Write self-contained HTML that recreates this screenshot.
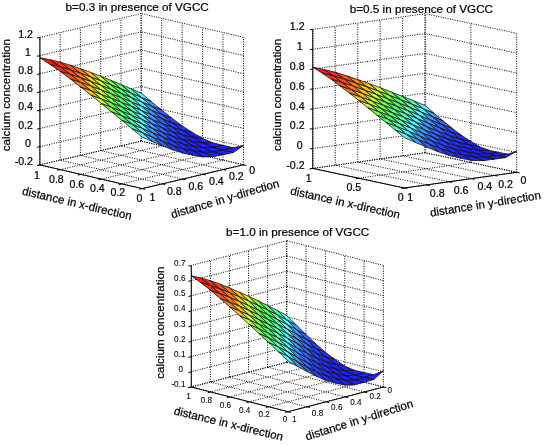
<!DOCTYPE html>
<html><head><meta charset="utf-8"><style>
html,body{margin:0;padding:0;background:#fff;}
svg{display:block;filter:blur(0.3px);}
.g{stroke:#000;stroke-width:1;stroke-dasharray:1 1.4;fill:none;}
.ax{stroke:#000;stroke-width:1;fill:none;}
.surf polygon{stroke:#111;stroke-width:0.8;stroke-linejoin:round;}
text{font-family:"Liberation Sans", sans-serif;fill:#000;stroke:#000;stroke-width:0.22px;}
</style></head><body>
<svg width="545" height="445" viewBox="0 0 545 445">
<rect width="545" height="445" fill="#fff"/>
<line x1="141.20" y1="141.10" x2="141.20" y2="13.56" class="g"/>
<line x1="120.94" y1="145.86" x2="120.94" y2="18.32" class="g"/>
<line x1="100.68" y1="150.62" x2="100.68" y2="23.08" class="g"/>
<line x1="80.42" y1="155.38" x2="80.42" y2="27.84" class="g"/>
<line x1="60.16" y1="160.14" x2="60.16" y2="32.60" class="g"/>
<line x1="39.90" y1="164.90" x2="39.90" y2="37.36" class="g"/>
<line x1="141.20" y1="141.10" x2="39.90" y2="164.90" class="g"/>
<line x1="141.20" y1="122.88" x2="39.90" y2="146.68" class="g"/>
<line x1="141.20" y1="104.66" x2="39.90" y2="128.46" class="g"/>
<line x1="141.20" y1="86.44" x2="39.90" y2="110.24" class="g"/>
<line x1="141.20" y1="68.22" x2="39.90" y2="92.02" class="g"/>
<line x1="141.20" y1="50.00" x2="39.90" y2="73.80" class="g"/>
<line x1="141.20" y1="31.78" x2="39.90" y2="55.58" class="g"/>
<line x1="141.20" y1="13.56" x2="39.90" y2="37.36" class="g"/>
<line x1="243.50" y1="164.80" x2="243.50" y2="37.26" class="g"/>
<line x1="223.04" y1="160.06" x2="223.04" y2="32.52" class="g"/>
<line x1="202.58" y1="155.32" x2="202.58" y2="27.78" class="g"/>
<line x1="182.12" y1="150.58" x2="182.12" y2="23.04" class="g"/>
<line x1="161.66" y1="145.84" x2="161.66" y2="18.30" class="g"/>
<line x1="141.20" y1="141.10" x2="141.20" y2="13.56" class="g"/>
<line x1="243.50" y1="164.80" x2="141.20" y2="141.10" class="g"/>
<line x1="243.50" y1="146.58" x2="141.20" y2="122.88" class="g"/>
<line x1="243.50" y1="128.36" x2="141.20" y2="104.66" class="g"/>
<line x1="243.50" y1="110.14" x2="141.20" y2="86.44" class="g"/>
<line x1="243.50" y1="91.92" x2="141.20" y2="68.22" class="g"/>
<line x1="243.50" y1="73.70" x2="141.20" y2="50.00" class="g"/>
<line x1="243.50" y1="55.48" x2="141.20" y2="31.78" class="g"/>
<line x1="243.50" y1="37.26" x2="141.20" y2="13.56" class="g"/>
<line x1="243.50" y1="164.80" x2="142.20" y2="188.60" class="g"/>
<line x1="223.04" y1="160.06" x2="121.74" y2="183.86" class="g"/>
<line x1="202.58" y1="155.32" x2="101.28" y2="179.12" class="g"/>
<line x1="182.12" y1="150.58" x2="80.82" y2="174.38" class="g"/>
<line x1="161.66" y1="145.84" x2="60.36" y2="169.64" class="g"/>
<line x1="141.20" y1="141.10" x2="39.90" y2="164.90" class="g"/>
<line x1="243.50" y1="164.80" x2="141.20" y2="141.10" class="g"/>
<line x1="223.24" y1="169.56" x2="120.94" y2="145.86" class="g"/>
<line x1="202.98" y1="174.32" x2="100.68" y2="150.62" class="g"/>
<line x1="182.72" y1="179.08" x2="80.42" y2="155.38" class="g"/>
<line x1="162.46" y1="183.84" x2="60.16" y2="160.14" class="g"/>
<line x1="142.20" y1="188.60" x2="39.90" y2="164.90" class="g"/>
<g class="surf"><polygon points="151.43,101.64 141.20,93.09 131.07,88.75 141.30,97.49" fill="#50f9ff"/><polygon points="161.66,109.97 151.43,101.64 141.30,97.49 151.53,106.07" fill="#3f99ff"/><polygon points="171.89,118.21 161.66,109.97 151.53,106.07 161.76,114.43" fill="#3164ff"/><polygon points="141.30,97.49 131.07,88.75 120.94,84.47 131.17,93.18" fill="#52ffae"/><polygon points="182.12,125.86 171.89,118.21 161.76,114.43 171.99,122.72" fill="#2740ff"/><polygon points="151.53,106.07 141.30,97.49 131.17,93.18 141.40,101.88" fill="#50f9ff"/><polygon points="192.35,132.40 182.12,125.86 171.99,122.72 182.22,130.40" fill="#222dff"/><polygon points="161.76,114.43 151.53,106.07 141.40,101.88 151.63,110.50" fill="#3f99ff"/><polygon points="131.17,93.18 120.94,84.47 110.81,80.32 121.04,88.94" fill="#4fff70"/><polygon points="171.99,122.72 161.76,114.43 151.63,110.50 161.86,118.90" fill="#3164ff"/><polygon points="202.58,138.53 192.35,132.40 182.22,130.40 192.45,136.98" fill="#1f1fff"/><polygon points="141.40,101.88 131.17,93.18 121.04,88.94 131.27,97.61" fill="#52ffae"/><polygon points="182.22,130.40 171.99,122.72 161.86,118.90 172.09,127.22" fill="#2740ff"/><polygon points="151.63,110.50 141.40,101.88 131.27,97.61 141.50,106.28" fill="#50f9ff"/><polygon points="121.04,88.94 110.81,80.32 100.68,76.26 110.91,84.82" fill="#76ff3f"/><polygon points="212.81,142.74 202.58,138.53 192.45,136.98 202.68,143.14" fill="#1f1fff"/><polygon points="192.45,136.98 182.22,130.40 172.09,127.22 182.32,134.94" fill="#222dff"/><polygon points="161.86,118.90 151.63,110.50 141.50,106.28 151.73,114.93" fill="#3f99ff"/><polygon points="131.27,97.61 121.04,88.94 110.91,84.82 121.14,93.40" fill="#4fff70"/><polygon points="223.04,145.35 212.81,142.74 202.68,143.14 212.91,147.39" fill="#1f1fff"/><polygon points="172.09,127.22 161.86,118.90 151.73,114.93 161.96,123.37" fill="#3164ff"/><polygon points="202.68,143.14 192.45,136.98 182.32,134.94 192.55,141.55" fill="#1f1fff"/><polygon points="141.50,106.28 131.27,97.61 121.14,93.40 131.37,102.04" fill="#52ffae"/><polygon points="110.91,84.82 100.68,76.26 90.55,72.35 100.78,80.80" fill="#caff2a"/><polygon points="182.32,134.94 172.09,127.22 161.96,123.37 172.19,131.72" fill="#2740ff"/><polygon points="233.27,147.78 223.04,145.35 212.91,147.39 223.14,150.02" fill="#1f1fff"/><polygon points="151.73,114.93 141.50,106.28 131.37,102.04 141.60,110.67" fill="#50f9ff"/><polygon points="121.14,93.40 110.91,84.82 100.78,80.80 111.01,89.32" fill="#76ff3f"/><polygon points="212.91,147.39 202.68,143.14 192.55,141.55 202.78,147.75" fill="#1f1fff"/><polygon points="192.55,141.55 182.32,134.94 172.19,131.72 182.42,139.47" fill="#222dff"/><polygon points="161.96,123.37 151.73,114.93 141.60,110.67 151.83,119.36" fill="#3f99ff"/><polygon points="131.37,102.04 121.14,93.40 111.01,89.32 121.24,97.87" fill="#4fff70"/><polygon points="100.78,80.80 90.55,72.35 80.42,68.70 90.65,76.92" fill="#ffc20d"/><polygon points="223.14,150.02 212.91,147.39 202.78,147.75 213.01,152.03" fill="#1f1fff"/><polygon points="243.50,145.51 233.27,147.78 223.14,150.02 233.37,152.50" fill="#1f1fff"/><polygon points="172.19,131.72 161.96,123.37 151.83,119.36 162.06,127.83" fill="#3164ff"/><polygon points="202.78,147.75 192.55,141.55 182.42,139.47 192.65,146.12" fill="#1f1fff"/><polygon points="141.60,110.67 131.37,102.04 121.24,97.87 131.47,106.47" fill="#52ffae"/><polygon points="111.01,89.32 100.78,80.80 90.65,76.92 100.88,85.33" fill="#caff2a"/><polygon points="182.42,139.47 172.19,131.72 162.06,127.83 172.29,136.22" fill="#2740ff"/><polygon points="233.37,152.50 223.14,150.02 213.01,152.03 223.24,154.70" fill="#1f1fff"/><polygon points="151.83,119.36 141.60,110.67 131.47,106.47 141.70,115.07" fill="#50f9ff"/><polygon points="121.24,97.87 111.01,89.32 100.88,85.33 111.11,93.82" fill="#76ff3f"/><polygon points="213.01,152.03 202.78,147.75 192.65,146.12 202.88,152.36" fill="#1f1fff"/><polygon points="90.65,76.92 80.42,68.70 70.29,65.20 80.52,73.30" fill="#ff7f10"/><polygon points="192.65,146.12 182.42,139.47 172.29,136.22 182.52,144.01" fill="#222dff"/><polygon points="162.06,127.83 151.83,119.36 141.70,115.07 151.93,123.79" fill="#3f99ff"/><polygon points="131.47,106.47 121.24,97.87 111.11,93.82 121.34,102.33" fill="#4fff70"/><polygon points="100.88,85.33 90.65,76.92 80.52,73.30 90.75,81.50" fill="#ffc20d"/><polygon points="223.24,154.70 213.01,152.03 202.88,152.36 213.11,156.67" fill="#1f1fff"/><polygon points="172.29,136.22 162.06,127.83 151.93,123.79 162.16,132.30" fill="#3164ff"/><polygon points="202.88,152.36 192.65,146.12 182.52,144.01 192.75,150.69" fill="#1f1fff"/><polygon points="141.70,115.07 131.47,106.47 121.34,102.33 131.57,110.90" fill="#52ffae"/><polygon points="111.11,93.82 100.88,85.33 90.75,81.50 100.98,89.87" fill="#caff2a"/><polygon points="80.52,73.30 70.29,65.20 60.16,62.14 70.39,69.85" fill="#ff4d12"/><polygon points="182.52,144.01 172.29,136.22 162.16,132.30 172.39,140.72" fill="#2740ff"/><polygon points="151.93,123.79 141.70,115.07 131.57,110.90 141.80,119.46" fill="#50f9ff"/><polygon points="121.34,102.33 111.11,93.82 100.98,89.87 111.21,98.32" fill="#76ff3f"/><polygon points="213.11,156.67 202.88,152.36 192.75,150.69 202.98,156.96" fill="#1f1fff"/><polygon points="90.75,81.50 80.52,73.30 70.39,69.85 80.62,77.91" fill="#ff7f10"/><polygon points="192.75,150.69 182.52,144.01 172.39,140.72 182.62,148.55" fill="#222dff"/><polygon points="162.16,132.30 151.93,123.79 141.80,119.46 152.03,128.22" fill="#3f99ff"/><polygon points="131.57,110.90 121.34,102.33 111.21,98.32 121.44,106.80" fill="#4fff70"/><polygon points="70.39,69.85 60.16,62.14 50.03,59.69 60.26,66.81" fill="#ff2714"/><polygon points="100.98,89.87 90.75,81.50 80.62,77.91 90.85,86.07" fill="#ffc20d"/><polygon points="172.39,140.72 162.16,132.30 152.03,128.22 162.26,136.76" fill="#3164ff"/><polygon points="202.98,156.96 192.75,150.69 182.62,148.55 192.85,155.26" fill="#1f1fff"/><polygon points="141.80,119.46 131.57,110.90 121.44,106.80 131.67,115.33" fill="#52ffae"/><polygon points="111.21,98.32 100.98,89.87 90.85,86.07 101.08,94.41" fill="#caff2a"/><polygon points="80.62,77.91 70.39,69.85 60.26,66.81 70.49,74.49" fill="#ff4d12"/><polygon points="182.62,148.55 172.39,140.72 162.26,136.76 172.49,145.22" fill="#2740ff"/><polygon points="152.03,128.22 141.80,119.46 131.67,115.33 141.90,123.85" fill="#50f9ff"/><polygon points="60.26,66.81 50.03,59.69 39.90,57.77 50.13,64.40" fill="#ff1414"/><polygon points="121.44,106.80 111.21,98.32 101.08,94.41 111.31,102.82" fill="#76ff3f"/><polygon points="90.85,86.07 80.62,77.91 70.49,74.49 80.72,82.52" fill="#ff7f10"/><polygon points="192.85,155.26 182.62,148.55 172.49,145.22 182.72,153.08" fill="#222dff"/><polygon points="162.26,136.76 152.03,128.22 141.90,123.85 152.13,132.65" fill="#3f99ff"/><polygon points="131.67,115.33 121.44,106.80 111.31,102.82 121.54,111.27" fill="#4fff70"/><polygon points="70.49,74.49 60.26,66.81 50.13,64.40 60.36,71.49" fill="#ff2714"/><polygon points="101.08,94.41 90.85,86.07 80.72,82.52 90.95,90.64" fill="#ffc20d"/><polygon points="172.49,145.22 162.26,136.76 152.13,132.65 162.36,141.23" fill="#3164ff"/><polygon points="141.90,123.85 131.67,115.33 121.54,111.27 131.77,119.76" fill="#52ffae"/><polygon points="111.31,102.82 101.08,94.41 90.95,90.64 101.18,98.94" fill="#caff2a"/><polygon points="80.72,82.52 70.49,74.49 60.36,71.49 70.59,79.13" fill="#ff4d12"/><polygon points="182.72,153.08 172.49,145.22 162.36,141.23 172.59,149.72" fill="#2740ff"/><polygon points="152.13,132.65 141.90,123.85 131.77,119.76 142.00,128.25" fill="#50f9ff"/><polygon points="121.54,111.27 111.31,102.82 101.18,98.94 111.41,107.32" fill="#76ff3f"/><polygon points="90.95,90.64 80.72,82.52 70.59,79.13 80.82,87.13" fill="#ff7f10"/><polygon points="162.36,141.23 152.13,132.65 142.00,128.25 152.23,137.08" fill="#3f99ff"/><polygon points="131.77,119.76 121.54,111.27 111.41,107.32 121.64,115.73" fill="#4fff70"/><polygon points="101.18,98.94 90.95,90.64 80.82,87.13 91.05,95.21" fill="#ffc20d"/><polygon points="172.59,149.72 162.36,141.23 152.23,137.08 162.46,145.69" fill="#3164ff"/><polygon points="142.00,128.25 131.77,119.76 121.64,115.73 131.87,124.19" fill="#52ffae"/><polygon points="111.41,107.32 101.18,98.94 91.05,95.21 101.28,103.48" fill="#caff2a"/><polygon points="152.23,137.08 142.00,128.25 131.87,124.19 142.10,132.64" fill="#50f9ff"/><polygon points="121.64,115.73 111.41,107.32 101.28,103.48 111.51,111.83" fill="#76ff3f"/><polygon points="162.46,145.69 152.23,137.08 142.10,132.64 152.33,141.51" fill="#3f99ff"/><polygon points="131.87,124.19 121.64,115.73 111.51,111.83 121.74,120.20" fill="#4fff70"/><polygon points="142.10,132.64 131.87,124.19 121.74,120.20 131.97,128.62" fill="#52ffae"/><polygon points="152.33,141.51 142.10,132.64 131.97,128.62 142.20,137.04" fill="#50f9ff"/></g>
<line x1="39.90" y1="164.90" x2="39.90" y2="37.36" class="ax"/>
<line x1="39.90" y1="164.90" x2="142.20" y2="188.60" class="ax"/>
<line x1="142.20" y1="188.60" x2="243.50" y2="164.80" class="ax"/>
<line x1="39.90" y1="164.90" x2="36.98" y2="165.59" class="ax"/>
<line x1="39.90" y1="146.68" x2="36.98" y2="147.37" class="ax"/>
<line x1="39.90" y1="128.46" x2="36.98" y2="129.15" class="ax"/>
<line x1="39.90" y1="110.24" x2="36.98" y2="110.93" class="ax"/>
<line x1="39.90" y1="92.02" x2="36.98" y2="92.71" class="ax"/>
<line x1="39.90" y1="73.80" x2="36.98" y2="74.49" class="ax"/>
<line x1="39.90" y1="55.58" x2="36.98" y2="56.27" class="ax"/>
<line x1="39.90" y1="37.36" x2="36.98" y2="38.05" class="ax"/>
<line x1="142.20" y1="188.60" x2="139.28" y2="189.29" class="ax"/>
<line x1="121.74" y1="183.86" x2="118.82" y2="184.55" class="ax"/>
<line x1="101.28" y1="179.12" x2="98.36" y2="179.81" class="ax"/>
<line x1="80.82" y1="174.38" x2="77.90" y2="175.07" class="ax"/>
<line x1="60.36" y1="169.64" x2="57.44" y2="170.33" class="ax"/>
<line x1="39.90" y1="164.90" x2="36.98" y2="165.59" class="ax"/>
<line x1="243.50" y1="164.80" x2="246.42" y2="165.48" class="ax"/>
<line x1="223.24" y1="169.56" x2="226.16" y2="170.24" class="ax"/>
<line x1="202.98" y1="174.32" x2="205.90" y2="175.00" class="ax"/>
<line x1="182.72" y1="179.08" x2="185.64" y2="179.76" class="ax"/>
<line x1="162.46" y1="183.84" x2="165.38" y2="184.52" class="ax"/>
<line x1="142.20" y1="188.60" x2="145.12" y2="189.28" class="ax"/>
<text x="32.90" y="165.10" text-anchor="end" font-size="10.60">-0.2</text>
<text x="31.00" y="146.88" text-anchor="end" font-size="10.60">0</text>
<text x="32.90" y="128.66" text-anchor="end" font-size="10.60">0.2</text>
<text x="32.90" y="110.44" text-anchor="end" font-size="10.60">0.4</text>
<text x="32.90" y="92.22" text-anchor="end" font-size="10.60">0.6</text>
<text x="32.90" y="74.00" text-anchor="end" font-size="10.60">0.8</text>
<text x="31.00" y="55.78" text-anchor="end" font-size="10.60">1</text>
<text x="32.90" y="37.56" text-anchor="end" font-size="10.60">1.2</text>
<text x="139.50" y="201.59" text-anchor="middle" font-size="10.60">0</text>
<text x="117.90" y="196.39" text-anchor="middle" font-size="10.60">0.2</text>
<text x="97.40" y="191.99" text-anchor="middle" font-size="10.60">0.4</text>
<text x="76.80" y="188.09" text-anchor="middle" font-size="10.60">0.6</text>
<text x="56.40" y="183.39" text-anchor="middle" font-size="10.60">0.8</text>
<text x="36.90" y="179.19" text-anchor="middle" font-size="10.60">1</text>
<text x="252.20" y="173.99" text-anchor="middle" font-size="10.60">0</text>
<text x="236.40" y="180.49" text-anchor="middle" font-size="10.60">0.2</text>
<text x="216.40" y="185.19" text-anchor="middle" font-size="10.60">0.4</text>
<text x="195.80" y="189.89" text-anchor="middle" font-size="10.60">0.6</text>
<text x="174.30" y="195.49" text-anchor="middle" font-size="10.60">0.8</text>
<text x="152.50" y="201.29" text-anchor="middle" font-size="10.60">1</text>
<text x="137.20" y="10.90" text-anchor="middle" font-size="11.70">b=0.3 in presence of VGCC</text>
<text transform="translate(10.00,95.15) rotate(-90)" text-anchor="middle" font-size="11.60">calcium concentration</text>
<text transform="translate(76.10,207.20) rotate(13.10)" text-anchor="middle" font-size="11.60">distance in x-direction</text>
<text transform="translate(226.10,202.50) rotate(-16.50)" text-anchor="middle" font-size="11.60">distance in y-direction</text>
<line x1="425.10" y1="152.70" x2="425.10" y2="13.68" class="g"/>
<line x1="402.64" y1="155.84" x2="402.64" y2="16.82" class="g"/>
<line x1="380.18" y1="158.98" x2="380.18" y2="19.96" class="g"/>
<line x1="357.72" y1="162.12" x2="357.72" y2="23.10" class="g"/>
<line x1="335.26" y1="165.26" x2="335.26" y2="26.24" class="g"/>
<line x1="312.80" y1="168.40" x2="312.80" y2="29.38" class="g"/>
<line x1="425.10" y1="152.70" x2="312.80" y2="168.40" class="g"/>
<line x1="425.10" y1="132.84" x2="312.80" y2="148.54" class="g"/>
<line x1="425.10" y1="112.98" x2="312.80" y2="128.68" class="g"/>
<line x1="425.10" y1="93.12" x2="312.80" y2="108.82" class="g"/>
<line x1="425.10" y1="73.26" x2="312.80" y2="88.96" class="g"/>
<line x1="425.10" y1="53.40" x2="312.80" y2="69.10" class="g"/>
<line x1="425.10" y1="33.54" x2="312.80" y2="49.24" class="g"/>
<line x1="425.10" y1="13.68" x2="312.80" y2="29.38" class="g"/>
<line x1="516.70" y1="172.30" x2="516.70" y2="33.28" class="g"/>
<line x1="470.90" y1="162.50" x2="470.90" y2="23.48" class="g"/>
<line x1="425.10" y1="152.70" x2="425.10" y2="13.68" class="g"/>
<line x1="516.70" y1="172.30" x2="425.10" y2="152.70" class="g"/>
<line x1="516.70" y1="152.44" x2="425.10" y2="132.84" class="g"/>
<line x1="516.70" y1="132.58" x2="425.10" y2="112.98" class="g"/>
<line x1="516.70" y1="112.72" x2="425.10" y2="93.12" class="g"/>
<line x1="516.70" y1="92.86" x2="425.10" y2="73.26" class="g"/>
<line x1="516.70" y1="73.00" x2="425.10" y2="53.40" class="g"/>
<line x1="516.70" y1="53.14" x2="425.10" y2="33.54" class="g"/>
<line x1="516.70" y1="33.28" x2="425.10" y2="13.68" class="g"/>
<line x1="516.70" y1="172.30" x2="404.40" y2="188.00" class="g"/>
<line x1="470.90" y1="162.50" x2="358.60" y2="178.20" class="g"/>
<line x1="425.10" y1="152.70" x2="312.80" y2="168.40" class="g"/>
<line x1="516.70" y1="172.30" x2="425.10" y2="152.70" class="g"/>
<line x1="494.24" y1="175.44" x2="402.64" y2="155.84" class="g"/>
<line x1="471.78" y1="178.58" x2="380.18" y2="158.98" class="g"/>
<line x1="449.32" y1="181.72" x2="357.72" y2="162.12" class="g"/>
<line x1="426.86" y1="184.86" x2="335.26" y2="165.26" class="g"/>
<line x1="404.40" y1="188.00" x2="312.80" y2="168.40" class="g"/>
<g class="surf"><polygon points="434.26,113.39 425.10,105.56 413.87,100.92 423.03,108.77" fill="#50f9ff"/><polygon points="443.42,121.04 434.26,113.39 423.03,108.77 432.19,116.63" fill="#3f99ff"/><polygon points="423.03,108.77 413.87,100.92 402.64,96.42 411.80,104.16" fill="#52ffae"/><polygon points="452.58,128.58 443.42,121.04 432.19,116.63 441.35,124.31" fill="#3164ff"/><polygon points="432.19,116.63 423.03,108.77 411.80,104.16 420.96,111.97" fill="#50f9ff"/><polygon points="411.80,104.16 402.64,96.42 391.41,92.03 400.57,99.69" fill="#4fff70"/><polygon points="461.74,135.52 452.58,128.58 441.35,124.31 450.51,131.88" fill="#2740ff"/><polygon points="441.35,124.31 432.19,116.63 420.96,111.97 430.12,119.86" fill="#3f99ff"/><polygon points="420.96,111.97 411.80,104.16 400.57,99.69 409.73,107.40" fill="#52ffae"/><polygon points="400.57,99.69 391.41,92.03 380.18,87.71 389.34,95.34" fill="#76ff3f"/><polygon points="470.90,141.38 461.74,135.52 450.51,131.88 459.67,138.85" fill="#222dff"/><polygon points="450.51,131.88 441.35,124.31 430.12,119.86 439.28,127.58" fill="#3164ff"/><polygon points="430.12,119.86 420.96,111.97 409.73,107.40 418.89,115.18" fill="#50f9ff"/><polygon points="409.73,107.40 400.57,99.69 389.34,95.34 398.50,102.96" fill="#4fff70"/><polygon points="389.34,95.34 380.18,87.71 368.95,83.52 378.11,91.04" fill="#caff2a"/><polygon points="480.06,146.88 470.90,141.38 459.67,138.85 468.83,144.74" fill="#1f1fff"/><polygon points="459.67,138.85 450.51,131.88 439.28,127.58 448.44,135.18" fill="#2740ff"/><polygon points="439.28,127.58 430.12,119.86 418.89,115.18 428.05,123.10" fill="#3f99ff"/><polygon points="418.89,115.18 409.73,107.40 398.50,102.96 407.66,110.63" fill="#52ffae"/><polygon points="398.50,102.96 389.34,95.34 378.11,91.04 387.27,98.64" fill="#76ff3f"/><polygon points="489.22,150.37 480.06,146.88 468.83,144.74 477.99,150.28" fill="#1f1fff"/><polygon points="378.11,91.04 368.95,83.52 357.72,79.56 366.88,86.89" fill="#ffc20d"/><polygon points="468.83,144.74 459.67,138.85 448.44,135.18 457.60,142.19" fill="#222dff"/><polygon points="448.44,135.18 439.28,127.58 428.05,123.10 437.21,130.85" fill="#3164ff"/><polygon points="428.05,123.10 418.89,115.18 407.66,110.63 416.82,118.38" fill="#50f9ff"/><polygon points="407.66,110.63 398.50,102.96 387.27,98.64 396.43,106.23" fill="#4fff70"/><polygon points="387.27,98.64 378.11,91.04 366.88,86.89 376.04,94.38" fill="#caff2a"/><polygon points="477.99,150.28 468.83,144.74 457.60,142.19 466.76,148.11" fill="#1f1fff"/><polygon points="498.38,152.25 489.22,150.37 477.99,150.28 487.15,153.80" fill="#1f1fff"/><polygon points="366.88,86.89 357.72,79.56 346.49,75.75 355.65,82.96" fill="#ff7f10"/><polygon points="457.60,142.19 448.44,135.18 437.21,130.85 446.37,138.48" fill="#2740ff"/><polygon points="437.21,130.85 428.05,123.10 416.82,118.38 425.98,126.34" fill="#3f99ff"/><polygon points="416.82,118.38 407.66,110.63 396.43,106.23 405.59,113.87" fill="#52ffae"/><polygon points="396.43,106.23 387.27,98.64 376.04,94.38 385.20,101.94" fill="#76ff3f"/><polygon points="487.15,153.80 477.99,150.28 466.76,148.11 475.92,153.67" fill="#1f1fff"/><polygon points="376.04,94.38 366.88,86.89 355.65,82.96 364.81,90.25" fill="#ffc20d"/><polygon points="466.76,148.11 457.60,142.19 446.37,138.48 455.53,145.52" fill="#222dff"/><polygon points="507.54,154.16 498.38,152.25 487.15,153.80 496.31,155.71" fill="#1f1fff"/><polygon points="355.65,82.96 346.49,75.75 335.26,72.33 344.42,79.19" fill="#ff4d12"/><polygon points="446.37,138.48 437.21,130.85 425.98,126.34 435.14,134.12" fill="#3164ff"/><polygon points="425.98,126.34 416.82,118.38 405.59,113.87 414.75,121.58" fill="#50f9ff"/><polygon points="405.59,113.87 396.43,106.23 385.20,101.94 394.36,109.50" fill="#4fff70"/><polygon points="385.20,101.94 376.04,94.38 364.81,90.25 373.97,97.71" fill="#caff2a"/><polygon points="475.92,153.67 466.76,148.11 455.53,145.52 464.69,151.48" fill="#1f1fff"/><polygon points="496.31,155.71 487.15,153.80 475.92,153.67 485.08,157.24" fill="#1f1fff"/><polygon points="364.81,90.25 355.65,82.96 344.42,79.19 353.58,86.36" fill="#ff7f10"/><polygon points="455.53,145.52 446.37,138.48 435.14,134.12 444.30,141.79" fill="#2740ff"/><polygon points="516.70,151.22 507.54,154.16 496.31,155.71 505.47,157.66" fill="#1f1fff"/><polygon points="344.42,79.19 335.26,72.33 324.03,69.48 333.19,75.80" fill="#ff2714"/><polygon points="435.14,134.12 425.98,126.34 414.75,121.58 423.91,129.57" fill="#3f99ff"/><polygon points="414.75,121.58 405.59,113.87 394.36,109.50 403.52,117.11" fill="#52ffae"/><polygon points="394.36,109.50 385.20,101.94 373.97,97.71 383.13,105.24" fill="#76ff3f"/><polygon points="485.08,157.24 475.92,153.67 464.69,151.48 473.85,157.07" fill="#1f1fff"/><polygon points="373.97,97.71 364.81,90.25 353.58,86.36 362.74,93.62" fill="#ffc20d"/><polygon points="464.69,151.48 455.53,145.52 444.30,141.79 453.46,148.86" fill="#222dff"/><polygon points="505.47,157.66 496.31,155.71 485.08,157.24 494.24,159.18" fill="#1f1fff"/><polygon points="353.58,86.36 344.42,79.19 333.19,75.80 342.35,82.62" fill="#ff4d12"/><polygon points="444.30,141.79 435.14,134.12 423.91,129.57 433.07,137.39" fill="#3164ff"/><polygon points="333.19,75.80 324.03,69.48 312.80,67.11 321.96,72.98" fill="#ff1414"/><polygon points="423.91,129.57 414.75,121.58 403.52,117.11 412.68,124.79" fill="#50f9ff"/><polygon points="403.52,117.11 394.36,109.50 383.13,105.24 392.29,112.77" fill="#4fff70"/><polygon points="383.13,105.24 373.97,97.71 362.74,93.62 371.90,101.05" fill="#caff2a"/><polygon points="473.85,157.07 464.69,151.48 453.46,148.86 462.62,154.85" fill="#1f1fff"/><polygon points="494.24,159.18 485.08,157.24 473.85,157.07 483.01,160.67" fill="#1f1fff"/><polygon points="362.74,93.62 353.58,86.36 342.35,82.62 351.51,89.76" fill="#ff7f10"/><polygon points="453.46,148.86 444.30,141.79 433.07,137.39 442.23,145.09" fill="#2740ff"/><polygon points="342.35,82.62 333.19,75.80 321.96,72.98 331.12,79.26" fill="#ff2714"/><polygon points="433.07,137.39 423.91,129.57 412.68,124.79 421.84,132.81" fill="#3f99ff"/><polygon points="412.68,124.79 403.52,117.11 392.29,112.77 401.45,120.34" fill="#52ffae"/><polygon points="392.29,112.77 383.13,105.24 371.90,101.05 381.06,108.54" fill="#76ff3f"/><polygon points="483.01,160.67 473.85,157.07 462.62,154.85 471.78,160.47" fill="#1f1fff"/><polygon points="371.90,101.05 362.74,93.62 351.51,89.76 360.67,96.99" fill="#ffc20d"/><polygon points="462.62,154.85 453.46,148.86 442.23,145.09 451.39,152.19" fill="#222dff"/><polygon points="351.51,89.76 342.35,82.62 331.12,79.26 340.28,86.05" fill="#ff4d12"/><polygon points="442.23,145.09 433.07,137.39 421.84,132.81 431.00,140.66" fill="#3164ff"/><polygon points="421.84,132.81 412.68,124.79 401.45,120.34 410.61,127.99" fill="#50f9ff"/><polygon points="401.45,120.34 392.29,112.77 381.06,108.54 390.22,116.04" fill="#4fff70"/><polygon points="381.06,108.54 371.90,101.05 360.67,96.99 369.83,104.38" fill="#caff2a"/><polygon points="471.78,160.47 462.62,154.85 451.39,152.19 460.55,158.21" fill="#1f1fff"/><polygon points="360.67,96.99 351.51,89.76 340.28,86.05 349.44,93.16" fill="#ff7f10"/><polygon points="451.39,152.19 442.23,145.09 431.00,140.66 440.16,148.39" fill="#2740ff"/><polygon points="431.00,140.66 421.84,132.81 410.61,127.99 419.77,136.05" fill="#3f99ff"/><polygon points="410.61,127.99 401.45,120.34 390.22,116.04 399.38,123.58" fill="#52ffae"/><polygon points="390.22,116.04 381.06,108.54 369.83,104.38 378.99,111.85" fill="#76ff3f"/><polygon points="369.83,104.38 360.67,96.99 349.44,93.16 358.60,100.35" fill="#ffc20d"/><polygon points="460.55,158.21 451.39,152.19 440.16,148.39 449.32,155.52" fill="#222dff"/><polygon points="440.16,148.39 431.00,140.66 419.77,136.05 428.93,143.93" fill="#3164ff"/><polygon points="419.77,136.05 410.61,127.99 399.38,123.58 408.54,131.20" fill="#50f9ff"/><polygon points="399.38,123.58 390.22,116.04 378.99,111.85 388.15,119.31" fill="#4fff70"/><polygon points="378.99,111.85 369.83,104.38 358.60,100.35 367.76,107.72" fill="#caff2a"/><polygon points="449.32,155.52 440.16,148.39 428.93,143.93 438.09,151.69" fill="#2740ff"/><polygon points="428.93,143.93 419.77,136.05 408.54,131.20 417.70,139.28" fill="#3f99ff"/><polygon points="408.54,131.20 399.38,123.58 388.15,119.31 397.31,126.82" fill="#52ffae"/><polygon points="388.15,119.31 378.99,111.85 367.76,107.72 376.92,115.15" fill="#76ff3f"/><polygon points="438.09,151.69 428.93,143.93 417.70,139.28 426.86,147.20" fill="#3164ff"/><polygon points="417.70,139.28 408.54,131.20 397.31,126.82 406.47,134.40" fill="#50f9ff"/><polygon points="397.31,126.82 388.15,119.31 376.92,115.15 386.08,122.58" fill="#4fff70"/><polygon points="426.86,147.20 417.70,139.28 406.47,134.40 415.63,142.52" fill="#3f99ff"/><polygon points="406.47,134.40 397.31,126.82 386.08,122.58 395.24,130.05" fill="#52ffae"/><polygon points="415.63,142.52 406.47,134.40 395.24,130.05 404.40,137.61" fill="#50f9ff"/></g>
<line x1="312.80" y1="168.40" x2="312.80" y2="29.38" class="ax"/>
<line x1="312.80" y1="168.40" x2="404.40" y2="188.00" class="ax"/>
<line x1="404.40" y1="188.00" x2="516.70" y2="172.30" class="ax"/>
<line x1="312.80" y1="168.40" x2="309.83" y2="168.82" class="ax"/>
<line x1="312.80" y1="148.54" x2="309.83" y2="148.96" class="ax"/>
<line x1="312.80" y1="128.68" x2="309.83" y2="129.10" class="ax"/>
<line x1="312.80" y1="108.82" x2="309.83" y2="109.24" class="ax"/>
<line x1="312.80" y1="88.96" x2="309.83" y2="89.38" class="ax"/>
<line x1="312.80" y1="69.10" x2="309.83" y2="69.52" class="ax"/>
<line x1="312.80" y1="49.24" x2="309.83" y2="49.66" class="ax"/>
<line x1="312.80" y1="29.38" x2="309.83" y2="29.80" class="ax"/>
<line x1="404.40" y1="188.00" x2="401.43" y2="188.42" class="ax"/>
<line x1="358.60" y1="178.20" x2="355.63" y2="178.62" class="ax"/>
<line x1="312.80" y1="168.40" x2="309.83" y2="168.82" class="ax"/>
<line x1="516.70" y1="172.30" x2="519.63" y2="172.93" class="ax"/>
<line x1="494.24" y1="175.44" x2="497.17" y2="176.07" class="ax"/>
<line x1="471.78" y1="178.58" x2="474.71" y2="179.21" class="ax"/>
<line x1="449.32" y1="181.72" x2="452.25" y2="182.35" class="ax"/>
<line x1="426.86" y1="184.86" x2="429.79" y2="185.49" class="ax"/>
<line x1="404.40" y1="188.00" x2="407.33" y2="188.63" class="ax"/>
<text x="304.60" y="169.20" text-anchor="end" font-size="10.60">-0.2</text>
<text x="302.70" y="149.34" text-anchor="end" font-size="10.60">0</text>
<text x="304.60" y="129.48" text-anchor="end" font-size="10.60">0.2</text>
<text x="304.60" y="109.62" text-anchor="end" font-size="10.60">0.4</text>
<text x="304.60" y="89.76" text-anchor="end" font-size="10.60">0.6</text>
<text x="304.60" y="69.90" text-anchor="end" font-size="10.60">0.8</text>
<text x="302.70" y="50.04" text-anchor="end" font-size="10.60">1</text>
<text x="304.60" y="30.18" text-anchor="end" font-size="10.60">1.2</text>
<text x="400.70" y="200.79" text-anchor="middle" font-size="10.60">0</text>
<text x="353.80" y="191.19" text-anchor="middle" font-size="10.60">0.5</text>
<text x="308.80" y="182.09" text-anchor="middle" font-size="10.60">1</text>
<text x="523.50" y="183.99" text-anchor="middle" font-size="10.60">0</text>
<text x="505.50" y="187.99" text-anchor="middle" font-size="10.60">0.2</text>
<text x="484.90" y="190.49" text-anchor="middle" font-size="10.60">0.4</text>
<text x="461.00" y="193.89" text-anchor="middle" font-size="10.60">0.6</text>
<text x="437.20" y="196.79" text-anchor="middle" font-size="10.60">0.8</text>
<text x="410.20" y="200.69" text-anchor="middle" font-size="10.60">1</text>
<text x="421.40" y="13.00" text-anchor="middle" font-size="11.70">b=0.5 in presence of VGCC</text>
<text transform="translate(280.80,94.95) rotate(-90)" text-anchor="middle" font-size="11.60">calcium concentration</text>
<text transform="translate(344.40,206.50) rotate(12.60)" text-anchor="middle" font-size="11.60">distance in x-direction</text>
<text transform="translate(486.00,207.80) rotate(-9.20)" text-anchor="middle" font-size="11.60">distance in y-direction</text>
<line x1="286.70" y1="362.30" x2="286.70" y2="240.70" class="g"/>
<line x1="267.62" y1="367.24" x2="267.62" y2="245.64" class="g"/>
<line x1="248.54" y1="372.18" x2="248.54" y2="250.58" class="g"/>
<line x1="229.46" y1="377.12" x2="229.46" y2="255.52" class="g"/>
<line x1="210.38" y1="382.06" x2="210.38" y2="260.46" class="g"/>
<line x1="191.30" y1="387.00" x2="191.30" y2="265.40" class="g"/>
<line x1="286.70" y1="362.30" x2="191.30" y2="387.00" class="g"/>
<line x1="286.70" y1="347.10" x2="191.30" y2="371.80" class="g"/>
<line x1="286.70" y1="331.90" x2="191.30" y2="356.60" class="g"/>
<line x1="286.70" y1="316.70" x2="191.30" y2="341.40" class="g"/>
<line x1="286.70" y1="301.50" x2="191.30" y2="326.20" class="g"/>
<line x1="286.70" y1="286.30" x2="191.30" y2="311.00" class="g"/>
<line x1="286.70" y1="271.10" x2="191.30" y2="295.80" class="g"/>
<line x1="286.70" y1="255.90" x2="191.30" y2="280.60" class="g"/>
<line x1="286.70" y1="240.70" x2="191.30" y2="265.40" class="g"/>
<line x1="383.40" y1="387.00" x2="383.40" y2="265.40" class="g"/>
<line x1="364.06" y1="382.06" x2="364.06" y2="260.46" class="g"/>
<line x1="344.72" y1="377.12" x2="344.72" y2="255.52" class="g"/>
<line x1="325.38" y1="372.18" x2="325.38" y2="250.58" class="g"/>
<line x1="306.04" y1="367.24" x2="306.04" y2="245.64" class="g"/>
<line x1="286.70" y1="362.30" x2="286.70" y2="240.70" class="g"/>
<line x1="383.40" y1="387.00" x2="286.70" y2="362.30" class="g"/>
<line x1="383.40" y1="371.80" x2="286.70" y2="347.10" class="g"/>
<line x1="383.40" y1="356.60" x2="286.70" y2="331.90" class="g"/>
<line x1="383.40" y1="341.40" x2="286.70" y2="316.70" class="g"/>
<line x1="383.40" y1="326.20" x2="286.70" y2="301.50" class="g"/>
<line x1="383.40" y1="311.00" x2="286.70" y2="286.30" class="g"/>
<line x1="383.40" y1="295.80" x2="286.70" y2="271.10" class="g"/>
<line x1="383.40" y1="280.60" x2="286.70" y2="255.90" class="g"/>
<line x1="383.40" y1="265.40" x2="286.70" y2="240.70" class="g"/>
<line x1="383.40" y1="387.00" x2="288.00" y2="411.70" class="g"/>
<line x1="364.06" y1="382.06" x2="268.66" y2="406.76" class="g"/>
<line x1="344.72" y1="377.12" x2="249.32" y2="401.82" class="g"/>
<line x1="325.38" y1="372.18" x2="229.98" y2="396.88" class="g"/>
<line x1="306.04" y1="367.24" x2="210.64" y2="391.94" class="g"/>
<line x1="286.70" y1="362.30" x2="191.30" y2="387.00" class="g"/>
<line x1="383.40" y1="387.00" x2="286.70" y2="362.30" class="g"/>
<line x1="364.32" y1="391.94" x2="267.62" y2="367.24" class="g"/>
<line x1="345.24" y1="396.88" x2="248.54" y2="372.18" class="g"/>
<line x1="326.16" y1="401.82" x2="229.46" y2="377.12" class="g"/>
<line x1="307.08" y1="406.76" x2="210.38" y2="382.06" class="g"/>
<line x1="288.00" y1="411.70" x2="191.30" y2="387.00" class="g"/>
<g class="surf"><polygon points="296.37,325.06 286.70,315.40 277.16,310.34 286.83,319.95" fill="#50f9ff"/><polygon points="306.04,334.50 296.37,325.06 286.83,319.95 296.50,329.65" fill="#3f99ff"/><polygon points="286.83,319.95 277.16,310.34 267.62,305.48 277.29,314.93" fill="#52ffae"/><polygon points="315.71,343.78 306.04,334.50 296.50,329.65 306.17,339.13" fill="#3164ff"/><polygon points="296.50,329.65 286.83,319.95 277.29,314.93 286.96,324.51" fill="#50f9ff"/><polygon points="277.29,314.93 267.62,305.48 258.08,300.81 267.75,310.11" fill="#4fff70"/><polygon points="325.38,352.30 315.71,343.78 306.17,339.13 315.84,348.45" fill="#2740ff"/><polygon points="306.17,339.13 296.50,329.65 286.96,324.51 296.63,334.25" fill="#3f99ff"/><polygon points="286.96,324.51 277.29,314.93 267.75,310.11 277.42,319.53" fill="#52ffae"/><polygon points="335.05,359.42 325.38,352.30 315.84,348.45 325.51,357.01" fill="#222dff"/><polygon points="267.75,310.11 258.08,300.81 248.54,296.30 258.21,305.48" fill="#76ff3f"/><polygon points="315.84,348.45 306.17,339.13 296.63,334.25 306.30,343.77" fill="#3164ff"/><polygon points="296.63,334.25 286.96,324.51 277.42,319.53 287.09,329.07" fill="#50f9ff"/><polygon points="344.72,366.06 335.05,359.42 325.51,357.01 335.18,364.17" fill="#1f1fff"/><polygon points="277.42,319.53 267.75,310.11 258.21,305.48 267.88,314.74" fill="#4fff70"/><polygon points="325.51,357.01 315.84,348.45 306.30,343.77 315.97,353.12" fill="#2740ff"/><polygon points="258.21,305.48 248.54,296.30 239.00,291.99 248.67,301.01" fill="#caff2a"/><polygon points="306.30,343.77 296.63,334.25 287.09,329.07 296.76,338.84" fill="#3f99ff"/><polygon points="287.09,329.07 277.42,319.53 267.88,314.74 277.55,324.12" fill="#52ffae"/><polygon points="354.39,370.33 344.72,366.06 335.18,364.17 344.85,370.84" fill="#1f1fff"/><polygon points="335.18,364.17 325.51,357.01 315.97,353.12 325.64,361.72" fill="#222dff"/><polygon points="267.88,314.74 258.21,305.48 248.67,301.01 258.34,310.15" fill="#76ff3f"/><polygon points="315.97,353.12 306.30,343.77 296.76,338.84 306.43,348.40" fill="#3164ff"/><polygon points="248.67,301.01 239.00,291.99 229.46,287.95 239.13,296.74" fill="#ffc20d"/><polygon points="296.76,338.84 287.09,329.07 277.55,324.12 287.22,333.62" fill="#50f9ff"/><polygon points="364.06,372.59 354.39,370.33 344.85,370.84 354.52,375.15" fill="#1f1fff"/><polygon points="344.85,370.84 335.18,364.17 325.64,361.72 335.31,368.91" fill="#1f1fff"/><polygon points="277.55,324.12 267.88,314.74 258.34,310.15 268.01,319.38" fill="#4fff70"/><polygon points="325.64,361.72 315.97,353.12 306.43,348.40 316.10,357.79" fill="#2740ff"/><polygon points="258.34,310.15 248.67,301.01 239.13,296.74 248.80,305.72" fill="#caff2a"/><polygon points="306.43,348.40 296.76,338.84 287.22,333.62 296.89,343.43" fill="#3f99ff"/><polygon points="239.13,296.74 229.46,287.95 219.92,284.08 229.59,292.74" fill="#ff7f10"/><polygon points="373.73,374.63 364.06,372.59 354.52,375.15 364.19,377.45" fill="#1f1fff"/><polygon points="287.22,333.62 277.55,324.12 268.01,319.38 277.68,328.71" fill="#52ffae"/><polygon points="354.52,375.15 344.85,370.84 335.31,368.91 344.98,375.63" fill="#1f1fff"/><polygon points="335.31,368.91 325.64,361.72 316.10,357.79 325.77,366.43" fill="#222dff"/><polygon points="268.01,319.38 258.34,310.15 248.80,305.72 258.47,314.82" fill="#76ff3f"/><polygon points="316.10,357.79 306.43,348.40 296.89,343.43 306.56,353.03" fill="#3164ff"/><polygon points="248.80,305.72 239.13,296.74 229.59,292.74 239.26,301.49" fill="#ffc20d"/><polygon points="296.89,343.43 287.22,333.62 277.68,328.71 287.35,338.18" fill="#50f9ff"/><polygon points="229.59,292.74 219.92,284.08 210.38,280.66 220.05,288.90" fill="#ff4d12"/><polygon points="364.19,377.45 354.52,375.15 344.98,375.63 354.65,379.98" fill="#1f1fff"/><polygon points="383.40,370.65 373.73,374.63 364.19,377.45 373.86,379.53" fill="#1f1fff"/><polygon points="344.98,375.63 335.31,368.91 325.77,366.43 335.44,373.66" fill="#1f1fff"/><polygon points="277.68,328.71 268.01,319.38 258.47,314.82 268.14,324.01" fill="#4fff70"/><polygon points="325.77,366.43 316.10,357.79 306.56,353.03 316.23,362.47" fill="#2740ff"/><polygon points="258.47,314.82 248.80,305.72 239.26,301.49 248.93,310.43" fill="#caff2a"/><polygon points="306.56,353.03 296.89,343.43 287.35,338.18 297.02,348.03" fill="#3f99ff"/><polygon points="239.26,301.49 229.59,292.74 220.05,288.90 229.72,297.52" fill="#ff7f10"/><polygon points="373.86,379.53 364.19,377.45 354.65,379.98 364.32,382.32" fill="#1f1fff"/><polygon points="287.35,338.18 277.68,328.71 268.14,324.01 277.81,333.31" fill="#52ffae"/><polygon points="354.65,379.98 344.98,375.63 335.44,373.66 345.11,380.42" fill="#1f1fff"/><polygon points="220.05,288.90 210.38,280.66 200.84,277.91 210.51,285.52" fill="#ff2714"/><polygon points="335.44,373.66 325.77,366.43 316.23,362.47 325.90,371.14" fill="#222dff"/><polygon points="268.14,324.01 258.47,314.82 248.93,310.43 258.60,319.49" fill="#76ff3f"/><polygon points="316.23,362.47 306.56,353.03 297.02,348.03 306.69,357.66" fill="#3164ff"/><polygon points="248.93,310.43 239.26,301.49 229.72,297.52 239.39,306.24" fill="#ffc20d"/><polygon points="297.02,348.03 287.35,338.18 277.81,333.31 287.48,342.73" fill="#50f9ff"/><polygon points="229.72,297.52 220.05,288.90 210.51,285.52 220.18,293.72" fill="#ff4d12"/><polygon points="364.32,382.32 354.65,379.98 345.11,380.42 354.78,384.80" fill="#1f1fff"/><polygon points="345.11,380.42 335.44,373.66 325.90,371.14 335.57,378.41" fill="#1f1fff"/><polygon points="210.51,285.52 200.84,277.91 191.30,275.74 200.97,282.82" fill="#ff1414"/><polygon points="277.81,333.31 268.14,324.01 258.60,319.49 268.27,328.64" fill="#4fff70"/><polygon points="325.90,371.14 316.23,362.47 306.69,357.66 316.36,367.14" fill="#2740ff"/><polygon points="258.60,319.49 248.93,310.43 239.39,306.24 249.06,315.14" fill="#caff2a"/><polygon points="306.69,357.66 297.02,348.03 287.48,342.73 297.15,352.62" fill="#3f99ff"/><polygon points="239.39,306.24 229.72,297.52 220.18,293.72 229.85,302.31" fill="#ff7f10"/><polygon points="287.48,342.73 277.81,333.31 268.27,328.64 277.94,337.90" fill="#52ffae"/><polygon points="354.78,384.80 345.11,380.42 335.57,378.41 345.24,385.20" fill="#1f1fff"/><polygon points="220.18,293.72 210.51,285.52 200.97,282.82 210.64,290.39" fill="#ff2714"/><polygon points="335.57,378.41 325.90,371.14 316.36,367.14 326.03,375.84" fill="#222dff"/><polygon points="268.27,328.64 258.60,319.49 249.06,315.14 258.73,324.16" fill="#76ff3f"/><polygon points="316.36,367.14 306.69,357.66 297.15,352.62 306.82,362.30" fill="#3164ff"/><polygon points="249.06,315.14 239.39,306.24 229.85,302.31 239.52,310.98" fill="#ffc20d"/><polygon points="297.15,352.62 287.48,342.73 277.94,337.90 287.61,347.29" fill="#50f9ff"/><polygon points="229.85,302.31 220.18,293.72 210.64,290.39 220.31,298.55" fill="#ff4d12"/><polygon points="345.24,385.20 335.57,378.41 326.03,375.84 335.70,383.16" fill="#1f1fff"/><polygon points="277.94,337.90 268.27,328.64 258.73,324.16 268.40,333.27" fill="#4fff70"/><polygon points="326.03,375.84 316.36,367.14 306.82,362.30 316.49,371.81" fill="#2740ff"/><polygon points="258.73,324.16 249.06,315.14 239.52,310.98 249.19,319.85" fill="#caff2a"/><polygon points="306.82,362.30 297.15,352.62 287.61,347.29 297.28,357.22" fill="#3f99ff"/><polygon points="239.52,310.98 229.85,302.31 220.31,298.55 229.98,307.09" fill="#ff7f10"/><polygon points="287.61,347.29 277.94,337.90 268.40,333.27 278.07,342.50" fill="#52ffae"/><polygon points="335.70,383.16 326.03,375.84 316.49,371.81 326.16,380.55" fill="#222dff"/><polygon points="268.40,333.27 258.73,324.16 249.19,319.85 258.86,328.83" fill="#76ff3f"/><polygon points="316.49,371.81 306.82,362.30 297.28,357.22 306.95,366.93" fill="#3164ff"/><polygon points="249.19,319.85 239.52,310.98 229.98,307.09 239.65,315.73" fill="#ffc20d"/><polygon points="297.28,357.22 287.61,347.29 278.07,342.50 287.74,351.84" fill="#50f9ff"/><polygon points="278.07,342.50 268.40,333.27 258.86,328.83 268.53,337.91" fill="#4fff70"/><polygon points="326.16,380.55 316.49,371.81 306.95,366.93 316.62,376.48" fill="#2740ff"/><polygon points="258.86,328.83 249.19,319.85 239.65,315.73 249.32,324.55" fill="#caff2a"/><polygon points="306.95,366.93 297.28,357.22 287.74,351.84 297.41,361.81" fill="#3f99ff"/><polygon points="287.74,351.84 278.07,342.50 268.53,337.91 278.20,347.09" fill="#52ffae"/><polygon points="268.53,337.91 258.86,328.83 249.32,324.55 258.99,333.50" fill="#76ff3f"/><polygon points="316.62,376.48 306.95,366.93 297.41,361.81 307.08,371.56" fill="#3164ff"/><polygon points="297.41,361.81 287.74,351.84 278.20,347.09 287.87,356.40" fill="#50f9ff"/><polygon points="278.20,347.09 268.53,337.91 258.99,333.50 268.66,342.54" fill="#4fff70"/><polygon points="307.08,371.56 297.41,361.81 287.87,356.40 297.54,366.41" fill="#3f99ff"/><polygon points="287.87,356.40 278.20,347.09 268.66,342.54 278.33,351.69" fill="#52ffae"/><polygon points="297.54,366.41 287.87,356.40 278.33,351.69 288.00,360.96" fill="#50f9ff"/></g>
<line x1="191.30" y1="387.00" x2="191.30" y2="265.40" class="ax"/>
<line x1="191.30" y1="387.00" x2="288.00" y2="411.70" class="ax"/>
<line x1="288.00" y1="411.70" x2="383.40" y2="387.00" class="ax"/>
<line x1="191.30" y1="387.00" x2="188.40" y2="387.75" class="ax"/>
<line x1="191.30" y1="371.80" x2="188.40" y2="372.55" class="ax"/>
<line x1="191.30" y1="356.60" x2="188.40" y2="357.35" class="ax"/>
<line x1="191.30" y1="341.40" x2="188.40" y2="342.15" class="ax"/>
<line x1="191.30" y1="326.20" x2="188.40" y2="326.95" class="ax"/>
<line x1="191.30" y1="311.00" x2="188.40" y2="311.75" class="ax"/>
<line x1="191.30" y1="295.80" x2="188.40" y2="296.55" class="ax"/>
<line x1="191.30" y1="280.60" x2="188.40" y2="281.35" class="ax"/>
<line x1="191.30" y1="265.40" x2="188.40" y2="266.15" class="ax"/>
<line x1="288.00" y1="411.70" x2="285.10" y2="412.45" class="ax"/>
<line x1="268.66" y1="406.76" x2="265.76" y2="407.51" class="ax"/>
<line x1="249.32" y1="401.82" x2="246.42" y2="402.57" class="ax"/>
<line x1="229.98" y1="396.88" x2="227.08" y2="397.63" class="ax"/>
<line x1="210.64" y1="391.94" x2="207.74" y2="392.69" class="ax"/>
<line x1="191.30" y1="387.00" x2="188.40" y2="387.75" class="ax"/>
<line x1="383.40" y1="387.00" x2="386.31" y2="387.74" class="ax"/>
<line x1="364.32" y1="391.94" x2="367.23" y2="392.68" class="ax"/>
<line x1="345.24" y1="396.88" x2="348.15" y2="397.62" class="ax"/>
<line x1="326.16" y1="401.82" x2="329.07" y2="402.56" class="ax"/>
<line x1="307.08" y1="406.76" x2="309.99" y2="407.50" class="ax"/>
<line x1="288.00" y1="411.70" x2="290.91" y2="412.44" class="ax"/>
<text x="185.50" y="387.30" text-anchor="end" font-size="8.20" style="stroke-width:0.08px">-0.1</text>
<text x="183.10" y="372.10" text-anchor="end" font-size="8.20" style="stroke-width:0.08px">0</text>
<text x="185.50" y="356.90" text-anchor="end" font-size="8.20" style="stroke-width:0.08px">0.1</text>
<text x="185.50" y="341.70" text-anchor="end" font-size="8.20" style="stroke-width:0.08px">0.2</text>
<text x="185.50" y="326.50" text-anchor="end" font-size="8.20" style="stroke-width:0.08px">0.3</text>
<text x="185.50" y="311.30" text-anchor="end" font-size="8.20" style="stroke-width:0.08px">0.4</text>
<text x="185.50" y="296.10" text-anchor="end" font-size="8.20" style="stroke-width:0.08px">0.5</text>
<text x="185.50" y="280.90" text-anchor="end" font-size="8.20" style="stroke-width:0.08px">0.6</text>
<text x="185.50" y="265.70" text-anchor="end" font-size="8.20" style="stroke-width:0.08px">0.7</text>
<text x="285.00" y="422.44" text-anchor="middle" font-size="8.20" style="stroke-width:0.08px">0</text>
<text x="264.20" y="417.44" text-anchor="middle" font-size="8.20" style="stroke-width:0.08px">0.2</text>
<text x="244.70" y="412.54" text-anchor="middle" font-size="8.20" style="stroke-width:0.08px">0.4</text>
<text x="225.40" y="407.74" text-anchor="middle" font-size="8.20" style="stroke-width:0.08px">0.6</text>
<text x="206.40" y="402.94" text-anchor="middle" font-size="8.20" style="stroke-width:0.08px">0.8</text>
<text x="188.60" y="398.74" text-anchor="middle" font-size="8.20" style="stroke-width:0.08px">1</text>
<text x="389.80" y="393.04" text-anchor="middle" font-size="8.20" style="stroke-width:0.08px">0</text>
<text x="375.20" y="399.44" text-anchor="middle" font-size="8.20" style="stroke-width:0.08px">0.2</text>
<text x="355.90" y="404.84" text-anchor="middle" font-size="8.20" style="stroke-width:0.08px">0.4</text>
<text x="336.80" y="410.34" text-anchor="middle" font-size="8.20" style="stroke-width:0.08px">0.6</text>
<text x="317.50" y="416.24" text-anchor="middle" font-size="8.20" style="stroke-width:0.08px">0.8</text>
<text x="294.30" y="421.94" text-anchor="middle" font-size="8.20" style="stroke-width:0.08px">1</text>
<text x="297.70" y="236.20" text-anchor="middle" font-size="11.70">b=1.0 in presence of VGCC</text>
<text transform="translate(163.70,322.65) rotate(-90)" text-anchor="middle" font-size="11.60">calcium concentration</text>
<text transform="translate(227.65,427.50) rotate(13.80)" text-anchor="middle" font-size="11.60">distance in x-direction</text>
<text transform="translate(360.30,423.70) rotate(-17.40)" text-anchor="middle" font-size="11.60">distance in y-direction</text>
</svg></body></html>
